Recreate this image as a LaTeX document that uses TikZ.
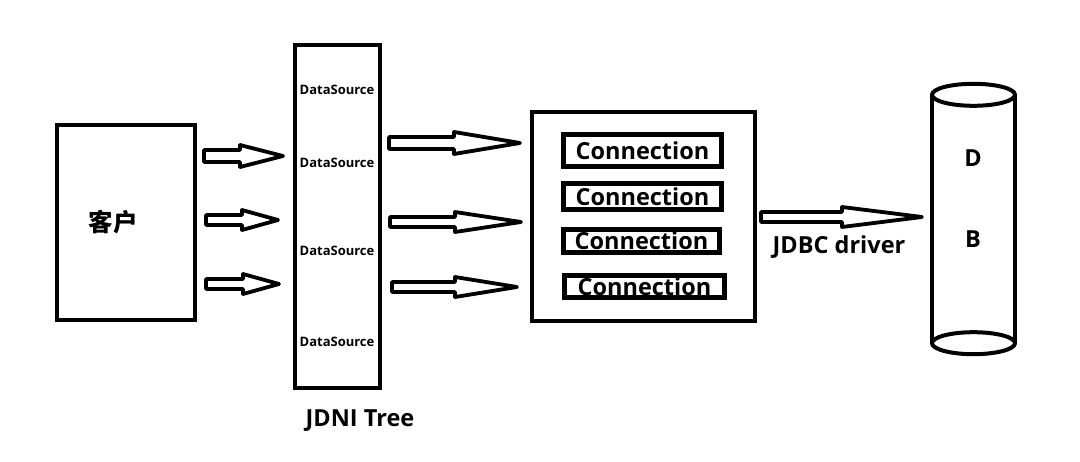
\documentclass[tikz,border=0pt]{standalone}
\usepackage{fontspec}
\setmainfont{Open Sans}
\newfontfamily\cjk{Noto Sans CJK SC}
\usetikzlibrary{calc}
\tikzset{
  box/.style={draw, line width=4pt, rectangle, inner sep=0pt},
  connbox/.style={draw, line width=5pt, rectangle, inner sep=0pt, font=\fontsize{23.5}{26}\selectfont\bfseries},
  dslabel/.style={font=\fontsize{13}{15}\selectfont\bfseries, inner sep=0pt},
  biglabel/.style={font=\fontsize{23.5}{26}\selectfont\bfseries, inner sep=0pt},
  barrow/.style={draw, line width=3.8pt, line join=round, fill=white},
}
\newcommand\blockarr[4]{% from, to, head length, shaft half
  \draw[barrow] let \p1=(#1), \p2=(#2) in
   (\x1,\y1+#4) -- (\x2-#3,\y1+#4) -- (\x2-#3,\y1+#4+5pt) -- (\x2,\y2)
   -- (\x2-#3,\y1-#4-5pt) -- (\x2-#3,\y1-#4) -- (\x1,\y1-#4) -- cycle;}
\begin{document}
\begin{tikzpicture}[x=1pt,y=-1pt]
\useasboundingbox (0,0) rectangle (1080,461);
% client
\node[box, minimum width=138pt, minimum height=195pt] (client) at (126,222.5) {};
\node[font=\cjk\fontsize{24.5}{26}\selectfont\bfseries, inner sep=0pt] (kehu) at (113,222) {客户};
% JNDI tree
\node[box, minimum width=85pt, minimum height=343pt] (jndi) at (337.5,216.5) {};
\node[dslabel] (ds1) at (337,90) {DataSource};
\node[dslabel] (ds2) at (337,163) {DataSource};
\node[dslabel] (ds3) at (337,251) {DataSource};
\node[dslabel] (ds4) at (337,342) {DataSource};
\node[biglabel] (jt) at (360,421) {JDNI Tree};
% pool
\node[box, minimum width=223pt, minimum height=209pt] (pool) at (643.5,216.5) {};
\node[connbox, minimum width=158pt, minimum height=32pt] (c1) at (642.5,150.5) {Connection};
\node[connbox, minimum width=158pt, minimum height=26pt] (c2) at (642.5,196.5) {Connection};
\node[connbox, minimum width=156pt, minimum height=23pt] (c3) at (641.5,241) {Connection};
\node[connbox, minimum width=160pt, minimum height=22pt] (c4) at (644.5,286.5) {Connection};
% database cylinder
\node[minimum width=83pt, minimum height=248pt, inner sep=0pt] (db) at (973.5,219) {};
\draw[line width=4pt] (db.north west) -- (db.south west);
\draw[line width=4pt] (db.north east) -- (db.south east);
\draw[line width=4pt, fill=white] (db.north) ellipse [x radius=41.5pt, y radius=11pt];
\draw[line width=4pt, fill=white] (db.south) ellipse [x radius=41.5pt, y radius=11pt];
\node[biglabel] (dd) at (973,158) {D};
\node[biglabel] (bb) at (973,239) {B};
% arrow coordinates
\coordinate (l1s) at (204,156); \coordinate (l1e) at (283,156);
\coordinate (l2s) at (206,220); \coordinate (l2e) at (278,220);
\coordinate (l3s) at (206,284); \coordinate (l3e) at (279,284);
\coordinate (r1s) at (389,143); \coordinate (r1e) at (520,143);
\coordinate (r2s) at (390,222); \coordinate (r2e) at (521,222);
\coordinate (r3s) at (392,287); \coordinate (r3e) at (517,287);
\coordinate (js) at (761,217); \coordinate (je) at (922,217);
\blockarr{l1s}{l1e}{43pt}{6pt}
\blockarr{l2s}{l2e}{36pt}{5pt}
\blockarr{l3s}{l3e}{36pt}{5pt}
\blockarr{r1s}{r1e}{66pt}{6pt}
\blockarr{r2s}{r2e}{66pt}{5pt}
\blockarr{r3s}{r3e}{62pt}{5pt}
\blockarr{js}{je}{80pt}{5pt}
\node[biglabel] (jdbc) at (839,247) {JDBC driver};
\end{tikzpicture}
\end{document}
